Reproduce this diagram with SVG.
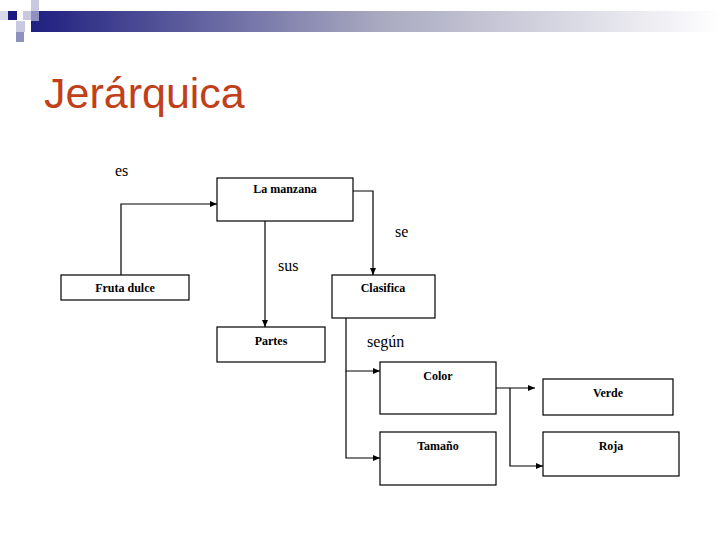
<svg xmlns="http://www.w3.org/2000/svg" width="728" height="546" viewBox="0 0 728 546">
<defs>
<linearGradient id="g" x1="0" x2="1"><stop offset="0" stop-color="#1f1f80"/><stop offset="0.5" stop-color="#a8a8c0"/><stop offset="1" stop-color="#ffffff"/></linearGradient>
<marker id="a" markerWidth="8" markerHeight="8" refX="7" refY="4" orient="auto" markerUnits="userSpaceOnUse"><path d="M0,1 L7,4 L0,7 Z" fill="#000"/></marker>
</defs>
<style>
.b{fill:#fff;stroke:#000;stroke-width:1.2}
.t{font-family:"Liberation Serif",serif;font-weight:bold;font-size:12px;text-anchor:middle}
.l{font-family:"Liberation Serif",serif;font-size:16px}
.c{fill:none;stroke:#000;stroke-width:1.2;marker-end:url(#a)}
</style>
<rect width="728" height="546" fill="#fff"/>
<rect x="31" y="11" width="690" height="21" fill="url(#g)"/>
<rect x="8" y="11" width="9" height="9" fill="#1a1a80"/>
<rect x="23" y="11" width="9" height="9" fill="#c8c8e0"/>
<rect x="31" y="11" width="8" height="10" fill="#9090c0"/>
<rect x="31" y="0" width="8" height="11" fill="#c8c8e0"/>
<rect x="16" y="21" width="9" height="11" fill="#c8c8e0"/>
<rect x="16" y="32" width="8" height="10" fill="#9090c0"/>
<rect x="0" y="11" width="8" height="9" fill="#d8d8ea"/>
<text x="44" y="108" font-family="Liberation Sans,sans-serif" font-size="43" fill="#c0401a">Jerárquica</text>
<g id="connectors">
<path class="c" d="M121,275 V204 H217"/>
<path class="c" d="M353,191 H373 V275"/>
<path class="c" d="M265,221 V327"/>
<path class="c" d="M346,318 V371 H380"/>
<path class="c" d="M346,371 V458 H380"/>
<path class="c" d="M496,388 H535"/>
<path class="c" d="M510,388 V466 H543"/>
</g>
<text class="l" x="115" y="176">es</text>
<text class="l" x="278" y="271">sus</text>
<text class="l" x="395" y="237">se</text>
<text class="l" x="367" y="347">según</text>
<g id="manzana"><rect class="b" x="217" y="178" width="136" height="43"/><text class="t" x="285" y="193">La manzana</text></g>
<g id="fruta"><rect class="b" x="61" y="275" width="128" height="25"/><text class="t" x="125" y="292">Fruta dulce</text></g>
<g id="clasifica"><rect class="b" x="332" y="275" width="103" height="43"/><text class="t" x="383" y="292">Clasifica</text></g>
<g id="partes"><rect class="b" x="217" y="327" width="108" height="35"/><text class="t" x="271" y="345">Partes</text></g>
<g id="color"><rect class="b" x="380" y="362" width="116" height="52"/><text class="t" x="438" y="380">Color</text></g>
<g id="tamano"><rect class="b" x="380" y="432" width="116" height="53"/><text class="t" x="438" y="450">Tamaño</text></g>
<g id="verde"><rect class="b" x="543" y="379" width="130" height="36"/><text class="t" x="608" y="397">Verde</text></g>
<g id="roja"><rect class="b" x="543" y="432" width="136" height="44"/><text class="t" x="611" y="450">Roja</text></g>
</svg>
